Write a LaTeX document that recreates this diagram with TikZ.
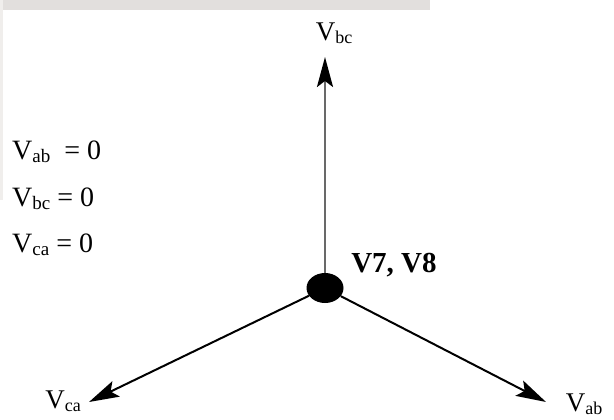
\documentclass[tikz,border=0pt]{standalone}
\usepackage{fontspec}
\setmainfont{Liberation Serif}
\usetikzlibrary{arrows.meta,shapes.geometric}
\definecolor{edgegrey}{RGB}{226,223,221}
\definecolor{edgefaint}{RGB}{240,238,236}
\definecolor{vline}{RGB}{105,105,105}
\newcommand{\phv}[3]{\fontsize{#1}{#1}\selectfont V\raisebox{-3pt}{\fontsize{#3}{#3}\selectfont #2}}
\tikzset{
  lbl/.style={inner sep=0pt},
  eq/.style={inner sep=0pt, anchor=west},
  phasor/.style={line width=2pt, -{Stealth[length=30pt, width=17pt, inset=6pt]}},
  hub/.style={ellipse, fill=black, minimum width=37pt, minimum height=30pt, inner sep=0pt}
}
\begin{document}
\begin{tikzpicture}[x=1pt,y=1pt]
\useasboundingbox (0,0) rectangle (614,-420);
\fill[white] (0,0) rectangle (614,-420);
\fill[edgegrey] (0,0) rectangle (430,-10);
\fill[edgefaint] (0,0) rectangle (3,-200);

\node[hub] (n) at (325,-288) {};
\coordinate (tb) at (325,-57);
\coordinate (tc) at (89,-402);
\coordinate (ta) at (546,-402);

\draw[phasor, vline, line width=2.6pt, -{Stealth[length=30pt, width=16pt, inset=6pt, black]}] (n.north) -- (tb);
\draw[phasor] (n) -- (tc);
\draw[phasor] (n) -- (ta);

\node[lbl] (lbc) at (334,-33) {\phv{27}{bc}{18}};
\node[lbl] (lca) at (63,-401) {\phv{27}{ca}{18}};
\node[lbl] (lab) at (584,-404) {\phv{27}{ab}{18}};
\node[inner sep=0pt, font=\bfseries\fontsize{29}{29}\selectfont] (v78) at (394,-265) {V7, V8};

\node[eq] (e1) at (12,-152) {\phv{28}{ab}{19}\ \ = 0};
\node[eq] (e2) at (12,-199) {\phv{28}{bc}{19} = 0};
\node[eq] (e3) at (12,-245) {\phv{28}{ca}{19} = 0};
\end{tikzpicture}
\end{document}
